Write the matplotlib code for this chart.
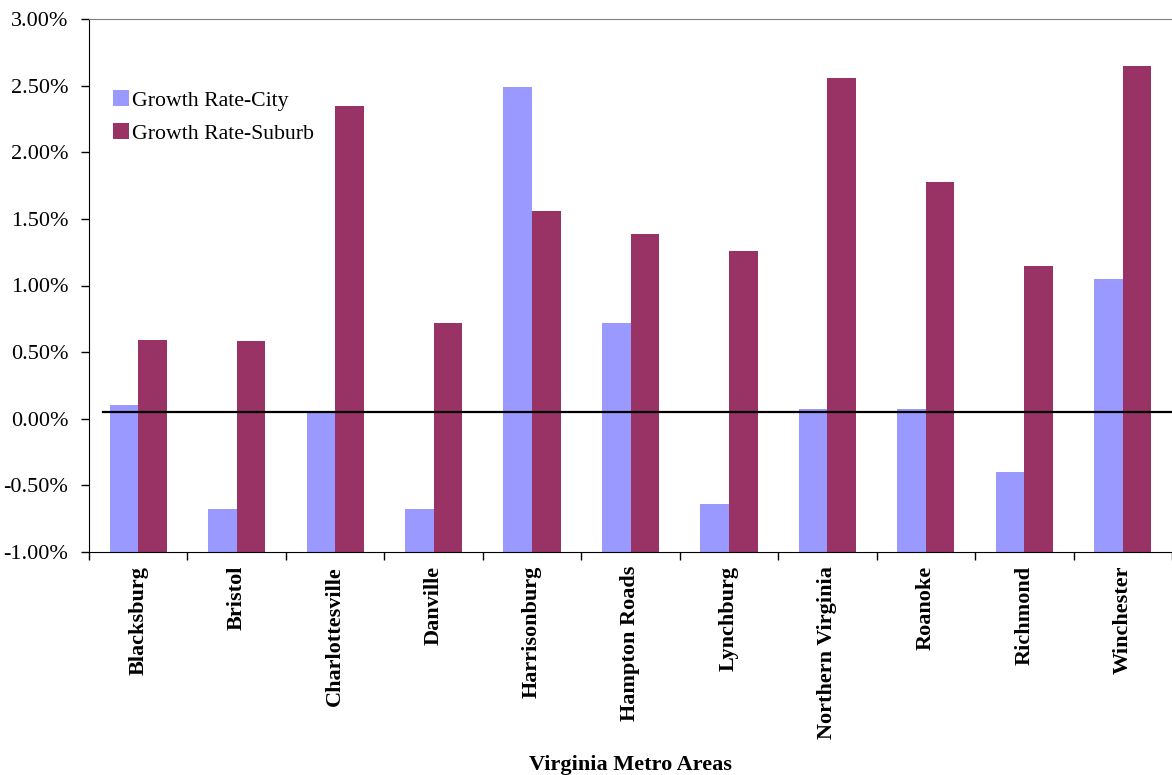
import numpy as np
import matplotlib
matplotlib.use('Agg')
import matplotlib.pyplot as plt
from matplotlib.ticker import FuncFormatter, FixedLocator

plt.rcParams['font.family'] = ['Liberation Serif', 'DejaVu Serif']

areas = ['Blacksburg', 'Bristol', 'Charlottesville', 'Danville', 'Harrisonburg',
         'Hampton Roads', 'Lynchburg', 'Northern Virginia', 'Roanoke', 'Richmond',
         'Winchester']
city = [0.10, -0.68, 0.05, -0.68, 2.49, 0.72, -0.64, 0.07, 0.07, -0.40, 1.05]
suburb = [0.59, 0.58, 2.35, 0.72, 1.56, 1.39, 1.26, 2.56, 1.78, 1.15, 2.65]
ref_line = 0.05
y_floor = -1.0

fig = plt.figure(figsize=(11.72, 7.75), dpi=100)
ax = fig.add_axes([89 / 1172, 1 - 552 / 775, 1083 / 1172, 533 / 775])

x = np.arange(len(areas))
w = 0.29
city_h = np.array(city) - y_floor
sub_h = np.array(suburb) - y_floor
ax.bar(x - w / 2, city_h, w, bottom=y_floor, color='#9999FF', label='Growth Rate-City')
ax.bar(x + w / 2, sub_h, w, bottom=y_floor, color='#993366', label='Growth Rate-Suburb')

ax.axhline(ref_line, xmin=14 / 1083, xmax=1, color='black', lw=1.6, zorder=3)

ax.set_xlim(-0.5, len(areas) - 0.5)
ax.set_ylim(-1.0, 3.0)
ax.set_yticks(np.arange(-1.0, 3.01, 0.5))
ax.yaxis.set_major_formatter(FuncFormatter(lambda v, p: f'{v:.2f}%'))

ax.set_xticks(x)
ax.set_xticklabels(areas, rotation=90, fontweight='bold', fontsize=16)
ax.xaxis.set_minor_locator(FixedLocator(np.arange(-0.5, len(areas), 1.0)))
ax.tick_params(axis='x', which='major', length=0, pad=10)
ax.tick_params(axis='x', which='minor', length=6, width=1, direction='out')
ax.tick_params(axis='y', labelsize=16, length=6, width=1, direction='out', pad=9)

ax.spines['top'].set_color('#808080')
ax.spines['right'].set_visible(False)
ax.spines['left'].set_color('black')
ax.spines['bottom'].set_color('black')

ax.set_xlabel('Virginia Metro Areas', fontsize=16, fontweight='bold', labelpad=12)

leg = ax.legend(loc='upper left', bbox_to_anchor=(0.022, 0.866), frameon=False,
                fontsize=15.7, handlelength=0.75, handleheight=0.75, handletextpad=0.15,
                labelspacing=0.55, borderpad=0, borderaxespad=0)

fig.savefig('out.png', dpi=100)
